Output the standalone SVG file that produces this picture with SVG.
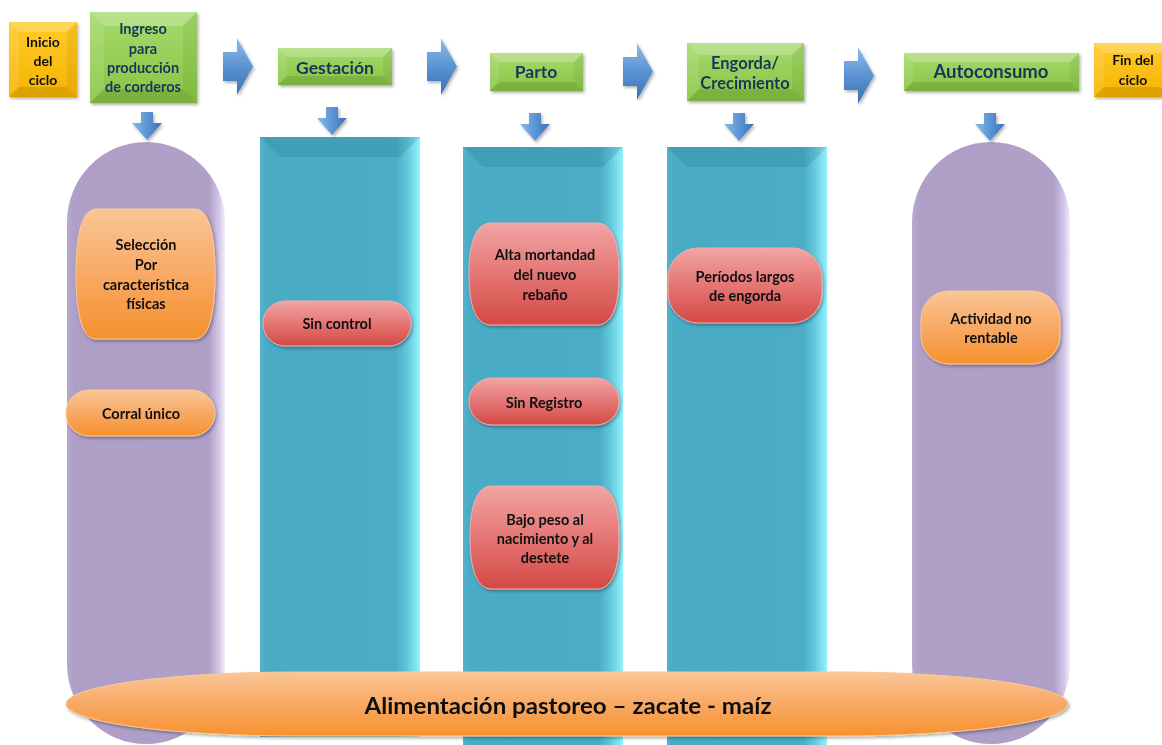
<svg xmlns="http://www.w3.org/2000/svg" width="1162" height="745" viewBox="0 0 1162 745">
<defs>
<style>
.hd{font-family:Lato,"Liberation Sans",sans-serif;font-weight:700;fill:#17365D;text-anchor:middle}
.bk{font-family:Lato,"Liberation Sans",sans-serif;font-weight:700;fill:#111;text-anchor:middle}
.t{fill:#fff;opacity:.22}
.l{fill:#fff;opacity:.1}
.r{fill:#000;opacity:.05}
.b{fill:#000;opacity:.1}
.green{fill:url(#gGreen)}
.yellow{fill:url(#gYellow)}
.teal{fill:url(#gTeal)}
.purple{fill:url(#gPurple)}
.orange{fill:url(#gOrange);stroke:#F9C996;stroke-width:1}
.red{fill:url(#gRed);stroke:#F2AEAD;stroke-width:1}
.topf{fill:#1F6E86;opacity:.2}
</style>
<linearGradient id="gGreen" x1="0" y1="0" x2="0" y2="1"><stop offset="0" stop-color="#A6DA6C"/><stop offset="1" stop-color="#88C443"/></linearGradient>
<linearGradient id="gYellow" x1="0" y1="0" x2="0" y2="1"><stop offset="0" stop-color="#FFCA2A"/><stop offset="1" stop-color="#F5B400"/></linearGradient>
<linearGradient id="gTeal" x1="0" y1="0" x2="1" y2="0"><stop offset="0" stop-color="#55B3CB"/><stop offset="0.04" stop-color="#4AABC5"/><stop offset="0.85" stop-color="#4BACC6"/><stop offset="0.92" stop-color="#62C8DC"/><stop offset="1" stop-color="#96F1FD"/></linearGradient>
<linearGradient id="gPurple" x1="0" y1="0" x2="1" y2="0"><stop offset="0" stop-color="#B8A8CE"/><stop offset="0.05" stop-color="#AF9EC6"/><stop offset="0.9" stop-color="#B0A0C7"/><stop offset="0.96" stop-color="#D2C5E6"/><stop offset="1" stop-color="#F3ECFD"/></linearGradient>
<linearGradient id="gOrange" x1="0" y1="0" x2="0" y2="1"><stop offset="0" stop-color="#FAC696"/><stop offset="0.5" stop-color="#F8A965"/><stop offset="1" stop-color="#F7912D"/></linearGradient>
<linearGradient id="gRed" x1="0" y1="0" x2="0" y2="1"><stop offset="0" stop-color="#F1A5A4"/><stop offset="0.5" stop-color="#E47674"/><stop offset="1" stop-color="#D44944"/></linearGradient>
<linearGradient id="gArrowR" x1="0" y1="0" x2="0" y2="1"><stop offset="0" stop-color="#8DBCEA"/><stop offset="0.5" stop-color="#5A93D3"/><stop offset="1" stop-color="#3B70B1"/></linearGradient>
<linearGradient id="gArrowD" x1="0" y1="0" x2="1" y2="0"><stop offset="0" stop-color="#8ABAE9"/><stop offset="0.5" stop-color="#5B95D5"/><stop offset="1" stop-color="#3C72B3"/></linearGradient>
<filter id="sh" x="-10%" y="-10%" width="130%" height="140%"><feDropShadow dx="1.5" dy="2" stdDeviation="1.5" flood-color="#000" flood-opacity="0.3"/></filter>
<path id="arR" d="M0,14 H14 V0 L30,28.5 L14,57 V43 H0 Z" fill="url(#gArrowR)"/>
<path id="arD" d="M9,0 H21 V11 H30 L15,28 L0,11 H9 Z" fill="url(#gArrowD)"/>
</defs>
<rect width="1162" height="745" fill="#fff"/>

<!-- Columns -->
<g id="col-ingreso">
<rect class="purple" x="67" y="142" width="158" height="602" rx="79" ry="80"/>
</g>
<g id="col-gestacion">
<rect class="teal" x="260" y="137" width="160" height="600"/>
<polygon class="topf" points="260,137 420,137 400,157 280,157"/>
<polygon fill="#1F6E86" opacity=".3" points="260,737 420,737 400,727 280,727"/>
</g>
<g id="col-parto">
<rect class="teal" x="463" y="147" width="160" height="600"/>
<polygon class="topf" points="463,147 623,147 603,167 483,167"/>
</g>
<g id="col-engorda">
<rect class="teal" x="667" y="147" width="160" height="600"/>
<polygon class="topf" points="667,147 827,147 807,167 687,167"/>
</g>
<g id="col-autoconsumo">
<rect class="purple" x="912" y="142" width="158" height="602" rx="79" ry="80"/>
</g>

<!-- Header boxes -->
<g id="inicio" filter="url(#sh)">
<rect class="yellow" x="9" y="22" width="68" height="75"/>
<polygon class="t" points="9,22 77,22 67,32 19,32"/><polygon class="r" points="77,22 77,97 67,87 67,32"/><polygon class="b" points="9,97 77,97 67,87 19,87"/><polygon class="l" points="9,22 9,97 19,87 19,32"/>
<text class="bk" font-size="14"><tspan x="43" y="47">Inicio</tspan><tspan x="43" y="66">del</tspan><tspan x="43" y="85">ciclo</tspan></text>
</g>
<g id="ingreso" filter="url(#sh)">
<rect class="green" x="90" y="12" width="107" height="91"/>
<polygon class="t" points="90,12 197,12 183,26 104,26"/><polygon class="r" points="197,12 197,103 183,89 183,26"/><polygon class="b" points="90,103 197,103 183,89 104,89"/><polygon class="l" points="90,12 90,103 104,89 104,26"/>
<text class="hd" font-size="14.5"><tspan x="143" y="34">Ingreso</tspan><tspan x="143" y="53.5">para</tspan><tspan x="143" y="72.5">producción</tspan><tspan x="143" y="92">de corderos</tspan></text>
</g>
<g id="gestacion" filter="url(#sh)">
<rect class="green" x="278" y="48" width="114" height="37"/>
<polygon class="t" points="278,48 392,48 383,57 287,57"/><polygon class="r" points="392,48 392,85 383,76 383,57"/><polygon class="b" points="278,85 392,85 383,76 287,76"/><polygon class="l" points="278,48 278,85 287,76 287,57"/>
<text class="hd" font-size="17.5" x="335" y="74">Gestación</text>
</g>
<g id="parto" filter="url(#sh)">
<rect class="green" x="490" y="53" width="93" height="38"/>
<polygon class="t" points="490,53 583,53 574,62 499,62"/><polygon class="r" points="583,53 583,91 574,82 574,62"/><polygon class="b" points="490,91 583,91 574,82 499,82"/><polygon class="l" points="490,53 490,91 499,82 499,62"/>
<text class="hd" font-size="17.5" x="536" y="78">Parto</text>
</g>
<g id="engorda" filter="url(#sh)">
<rect class="green" x="687" y="43" width="117" height="58"/>
<polygon class="t" points="687,43 804,43 792,55 699,55"/><polygon class="r" points="804,43 804,101 792,89 792,55"/><polygon class="b" points="687,101 804,101 792,89 699,89"/><polygon class="l" points="687,43 687,101 699,89 699,55"/>
<text class="hd" font-size="16.5"><tspan x="745" y="69">Engorda/</tspan><tspan x="745" y="89">Crecimiento</tspan></text>
</g>
<g id="autoconsumo" filter="url(#sh)">
<rect class="green" x="904" y="53" width="175" height="38"/>
<polygon class="t" points="904,53 1079,53 1070,62 913,62"/><polygon class="r" points="1079,53 1079,91 1070,82 1070,62"/><polygon class="b" points="904,91 1079,91 1070,82 913,82"/><polygon class="l" points="904,53 904,91 913,82 913,62"/>
<text class="hd" font-size="18.5" x="991" y="78">Autoconsumo</text>
</g>
<g id="fin" filter="url(#sh)">
<rect class="yellow" x="1094" y="43" width="76" height="54"/>
<polygon class="t" points="1094,43 1170,43 1160,53 1104,53"/><polygon class="b" points="1094,97 1170,97 1160,87 1104,87"/><polygon class="l" points="1094,43 1094,97 1104,87 1104,53"/>
<text class="bk" font-size="14"><tspan x="1133" y="65">Fin del</tspan><tspan x="1133" y="85">ciclo</tspan></text>
</g>

<!-- Connectors -->
<g id="connectors" filter="url(#sh)">
<use href="#arR" x="223" y="38"/>
<use href="#arR" x="427" y="38"/>
<use href="#arR" x="623" y="43"/>
<use href="#arR" x="844" y="47"/>
<use href="#arD" x="132" y="112"/>
<use href="#arD" x="317" y="107"/>
<use href="#arD" x="520" y="113"/>
<use href="#arD" x="724" y="113"/>
<use href="#arD" x="975" y="113"/>
</g>

<!-- Inner items -->
<g id="seleccion" filter="url(#sh)">
<path class="orange" d="M96,209 H195 C211,209 215,241.5 215,274 C215,306.5 211,339 195,339 H96 C80,339 76,306.5 76,274 C76,241.5 80,209 96,209 Z"/>
<text class="bk" font-size="14.5"><tspan x="146" y="250">Selección</tspan><tspan x="146" y="270">Por</tspan><tspan x="146" y="290">característica</tspan><tspan x="146" y="309">físicas</tspan></text>
</g>
<g id="corral" filter="url(#sh)">
<rect class="orange" x="66" y="390" width="149" height="46" rx="23"/>
<text class="bk" font-size="14.5" x="141" y="419">Corral único</text>
</g>
<g id="sincontrol" filter="url(#sh)">
<rect class="red" x="263" y="301" width="148" height="45" rx="22"/>
<text class="bk" font-size="14.5" x="337" y="329">Sin control</text>
</g>
<g id="alta" filter="url(#sh)">
<path class="red" d="M491,223 H597 C614.6,223 619,248.5 619,274 C619,299.5 614.6,325 597,325 H491 C473.4,325 469,299.5 469,274 C469,248.5 473.4,223 491,223 Z"/>
<text class="bk" font-size="14.5"><tspan x="545" y="260">Alta mortandad</tspan><tspan x="545" y="280">del nuevo</tspan><tspan x="545" y="300">rebaño</tspan></text>
</g>
<g id="sinregistro" filter="url(#sh)">
<rect class="red" x="469" y="378" width="150" height="47" rx="23"/>
<text class="bk" font-size="14.5" x="544" y="408">Sin Registro</text>
</g>
<g id="bajo" filter="url(#sh)">
<path class="red" d="M492,486 H597 C614.6,486 619,511.75 619,537.5 C619,563.25 614.6,589 597,589 H492 C474.4,589 470,563.25 470,537.5 C470,511.75 474.4,486 492,486 Z"/>
<text class="bk" font-size="14.5"><tspan x="545" y="525">Bajo peso al</tspan><tspan x="545" y="544">nacimiento y al</tspan><tspan x="545" y="563">destete</tspan></text>
</g>
<g id="periodos" filter="url(#sh)">
<rect class="red" x="668" y="248" width="154" height="75" rx="30"/>
<text class="bk" font-size="14.5"><tspan x="745" y="282">Períodos largos</tspan><tspan x="745" y="301">de engorda</tspan></text>
</g>
<g id="actividad" filter="url(#sh)">
<rect class="orange" x="921" y="291" width="139" height="73" rx="28"/>
<text class="bk" font-size="14.5"><tspan x="991" y="324">Actividad no</tspan><tspan x="991" y="343">rentable</tspan></text>
</g>

<!-- Bottom band -->
<g id="alimentacion" filter="url(#sh)">
<rect class="orange" x="66" y="672" width="1002" height="64" rx="230" ry="32"/>
<text class="bk" font-size="22" x="568" y="714" textLength="407" lengthAdjust="spacingAndGlyphs">Alimentación pastoreo – zacate - maíz</text>
</g>
</svg>
